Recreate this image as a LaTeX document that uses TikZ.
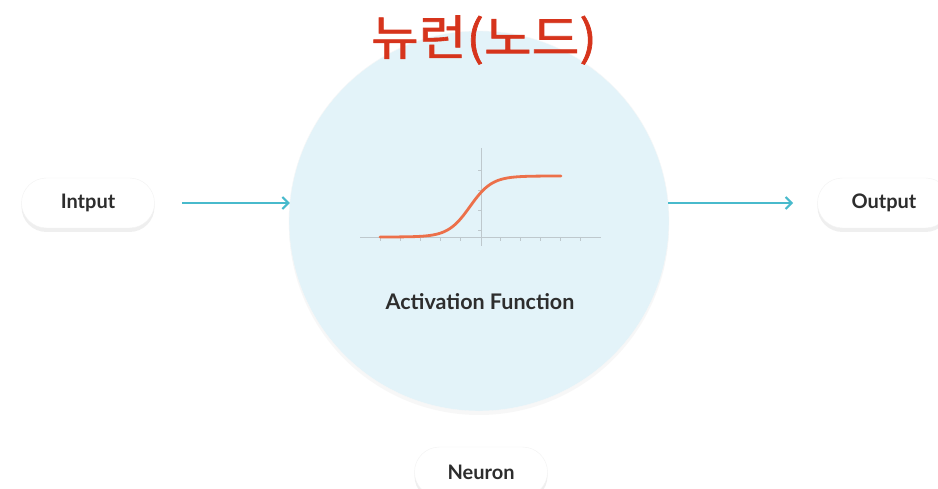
\documentclass[tikz,border=0pt]{standalone}
\usepackage{fontspec}
\setmainfont{Lato}
\newfontfamily\krfont[FakeBold=1.3]{Noto Sans CJK KR}
\usetikzlibrary{arrows.meta,shadows}
\definecolor{circfill}{RGB}{227,243,249}
\definecolor{arrowcol}{RGB}{72,186,204}
\definecolor{curvecol}{RGB}{236,112,74}
\definecolor{titlecol}{RGB}{214,52,28}
\definecolor{txtcol}{RGB}{45,45,45}
\definecolor{axiscol}{RGB}{190,200,205}
\tikzset{
  pill/.style={draw=black!5, fill=white, rounded corners=25pt, minimum width=133pt, minimum height=50pt,
    font=\fontsize{20}{22}\selectfont\bfseries, text=txtcol,
    drop shadow={opacity=0.12, shadow xshift=0pt, shadow yshift=-4pt}},
  flow/.style={draw=arrowcol, line width=2pt, -{Straight Barb[length=6pt,width=12pt,line width=2pt]}},
  axis/.style={draw=axiscol, line width=0.8pt},
}
\begin{document}
\begin{tikzpicture}[x=1pt,y=-1pt]
\useasboundingbox (0,0) rectangle (938,489);
\fill[white] (0,0) rectangle (938,489);
% neuron circle
\node (neuron) [circle, minimum size=380pt, fill=circfill, draw=black!3,
  drop shadow={opacity=0.06, shadow xshift=0pt, shadow yshift=-4pt}] at (479,221) {};
% title
\node (title) [text=titlecol, xscale=1.08, font=\krfont\fontsize{48}{52}\selectfont] at (484,40) {뉴런(노드)};
% graph
\draw[axis] (360,237) -- (601,237);
\draw[axis] (481,148) -- (481,246);
\foreach \t in {380,400,420,440,460,500,520,540,560,580}
  \draw[axis, line width=0.5pt] (\t,237) -- (\t,241);
\foreach \t in {170,190,210,230}
  \draw[axis, line width=0.5pt] (481,\t) -- (478,\t);
\draw[curvecol, line width=2.8pt, line cap=round] plot[domain=380:561, samples=90]
  (\x, {237-61/(1+exp(-(\x-470)/11))});
\node (act) [text=txtcol, font=\fontsize{21.5}{24}\selectfont\bfseries] at (480,302) {Activation Function};
% pills
\node (in) [pill] at (88,203) {Intput};
\node (out) [pill] at (884,203) {Output};
\node (lbl) [pill] at (481,472) {Neuron};
% arrows
\coordinate (a1) at (182,203);
\coordinate (a2) at (793,203);
\draw[flow] (a1) -- ([xshift=1pt]neuron.west |- a1);
\draw[flow] ([xshift=-1pt]neuron.east |- a2) -- (a2);
\end{tikzpicture}
\end{document}
